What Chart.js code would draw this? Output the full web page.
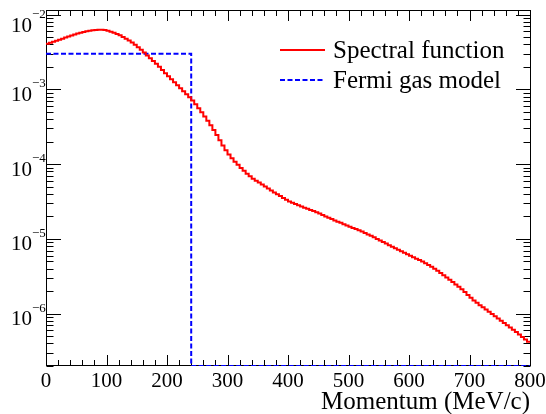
<!DOCTYPE html>
<html>
<head>
<meta charset="utf-8">
<script src="https://cdn.jsdelivr.net/npm/chart.js@4/dist/chart.umd.min.js"></script>
<style>
  html, body { margin: 0; padding: 0; background: #fff; }
  canvas { display: block; }
</style>
</head>
<body>
<canvas id="chart" width="546" height="414"></canvas>
<script>
// Nucleon momentum distribution, 5 MeV/c bins from 0 to 800
const binWidth = 5;
const momentumRange = [0, 800];

const spectralFunction = [
    4.06e-3, 4.18e-3, 4.32e-3, 4.45e-3, 4.60e-3, 4.76e-3, 4.92e-3, 5.08e-3, 5.25e-3, 5.41e-3,
    5.57e-3, 5.71e-3, 5.84e-3, 5.96e-3, 6.07e-3, 6.17e-3, 6.22e-3, 6.26e-3, 6.27e-3, 6.22e-3,
    6.08e-3, 5.90e-3, 5.71e-3, 5.50e-3, 5.27e-3, 5.02e-3, 4.76e-3, 4.49e-3, 4.22e-3, 3.94e-3,
    3.65e-3, 3.37e-3, 3.10e-3, 2.84e-3, 2.61e-3, 2.39e-3, 2.19e-3, 2.00e-3, 1.82e-3, 1.64e-3,
    1.50e-3, 1.36e-3, 1.24e-3, 1.135e-3, 1.035e-3, 9.44e-4, 8.61e-4, 7.85e-4, 7.08e-4, 6.31e-4,
    5.59e-4, 4.93e-4, 4.33e-4, 3.79e-4, 3.30e-4, 2.86e-4, 2.45e-4, 2.09e-4, 1.78e-4, 1.53e-4,
    1.34e-4, 1.20e-4, 1.08e-4, 9.80e-5, 8.91e-5, 8.13e-5, 7.46e-5, 6.88e-5, 6.40e-5, 6.01e-5,
    5.66e-5, 5.34e-5, 5.02e-5, 4.72e-5, 4.44e-5, 4.19e-5, 3.96e-5, 3.74e-5, 3.53e-5, 3.33e-5,
    3.17e-5, 3.05e-5, 2.92e-5, 2.81e-5, 2.71e-5, 2.62e-5, 2.53e-5, 2.44e-5, 2.36e-5, 2.28e-5,
    2.19e-5, 2.09e-5, 2.00e-5, 1.92e-5, 1.85e-5, 1.77e-5, 1.70e-5, 1.64e-5, 1.57e-5, 1.51e-5,
    1.45e-5, 1.40e-5, 1.36e-5, 1.31e-5, 1.26e-5, 1.20e-5, 1.15e-5, 1.10e-5, 1.05e-5, 1.00e-5,
    9.55e-6, 9.12e-6, 8.68e-6, 8.25e-6, 7.85e-6, 7.50e-6, 7.16e-6, 6.84e-6, 6.53e-6, 6.24e-6,
    5.96e-6, 5.69e-6, 5.45e-6, 5.24e-6, 5.00e-6, 4.74e-6, 4.49e-6, 4.24e-6, 3.99e-6, 3.75e-6,
    3.51e-6, 3.27e-6, 3.05e-6, 2.85e-6, 2.65e-6, 2.46e-6, 2.29e-6, 2.12e-6, 1.95e-6, 1.78e-6,
    1.63e-6, 1.50e-6, 1.40e-6, 1.30e-6, 1.22e-6, 1.135e-6, 1.06e-6, 9.89e-7, 9.23e-7, 8.61e-7,
    8.04e-7, 7.50e-7, 7.00e-7, 6.53e-7, 6.10e-7, 5.69e-7, 5.28e-7, 4.87e-7, 4.52e-7, 4.22e-7
];

// Fermi gas: flat up to the Fermi momentum, empty above
const fermiEdges = [0, 240, 800];
const fermiGas = [3.0e-3, 0];

const seriesNames = ["Spectral function", "Fermi gas model"];
const seriesColors = ["#ff0000", "#0000ff"];

const xTicks = [0, 100, 200, 300, 400, 500, 600, 700, 800];
const xMinorStep = 20;
const yDecades = [1e-2, 1e-3, 1e-4, 1e-5, 1e-6];
const yExponents = ["\u22122", "\u22123", "\u22124", "\u22125", "\u22126"];
const yRange = [2.0e-7, 1.15e-2];
const xTitle = "Momentum (MeV/c)";

// histogram -> stepped points (low edge of every bin, plus closing edge)
const spectralPoints = spectralFunction.map((v, i) => ({ x: momentumRange[0] + i * binWidth, y: v }));
spectralPoints.push({ x: momentumRange[1], y: spectralFunction[spectralFunction.length - 1] });

// empty bins can't go on a log axis, so they sit on the frame bottom like in ROOT
const fermiPoints = fermiEdges.map((e, i) => {
    const v = fermiGas[Math.min(i, fermiGas.length - 1)];
    return { x: e, y: v > 0 ? v : yRange[0] };
});

const serif = '"Liberation Serif", "Times New Roman", serif';

// ROOT-like frame: inward ticks on all four sides, labels and legend
const rootFrame = {
    id: "rootFrame",
    beforeDatasetsDraw(chart) {
        const { ctx, chartArea: a, scales: { x, y } } = chart;
        const left = Math.round(a.left) + 0.5;
        const right = Math.round(a.right) + 0.5;
        const top = Math.round(a.top) + 0.5;
        const bottom = Math.round(a.bottom) - 0.5;

        ctx.save();
        ctx.strokeStyle = "#000";
        ctx.lineWidth = 1;
        ctx.strokeRect(left, top, right - left, bottom - top);

        ctx.beginPath();
        // x ticks, bottom and top
        for (let v = momentumRange[0]; v <= momentumRange[1]; v += xMinorStep) {
            const px = Math.round(x.getPixelForValue(v)) + 0.5;
            const len = v % 100 === 0 ? 10.5 : 5.5;
            ctx.moveTo(px, bottom);
            ctx.lineTo(px, bottom - len);
            ctx.moveTo(px, top);
            ctx.lineTo(px, top + len);
        }
        // y ticks, left and right
        for (let e = -7; e <= -2; e++) {
            for (let k = 1; k <= 9; k++) {
                const v = k * Math.pow(10, e);
                if (v < yRange[0] || v > yRange[1]) continue;
                const py = Math.round(y.getPixelForValue(v)) + 0.5;
                const len = k === 1 ? 14.5 : 7;
                ctx.moveTo(left, py);
                ctx.lineTo(left + len, py);
                ctx.moveTo(right, py);
                ctx.lineTo(right - len, py);
            }
        }
        ctx.stroke();
        ctx.restore();
    },
    afterDraw(chart) {
        const { ctx, chartArea: a, scales: { x, y } } = chart;
        ctx.save();
        ctx.fillStyle = "#000";

        // x tick labels
        ctx.font = "21px " + serif;
        ctx.textAlign = "center";
        ctx.textBaseline = "alphabetic";
        xTicks.forEach(v => ctx.fillText(String(v), x.getPixelForValue(v), 387));

        // y tick labels as 10^n, kept inside the pad at the top
        yDecades.forEach((v, i) => {
            const cy = Math.max(y.getPixelForValue(v) + 4.5, 24.5);
            ctx.font = "21px " + serif;
            ctx.textAlign = "right";
            ctx.fillText("10", 32, cy + 7);
            ctx.font = "13px " + serif;
            ctx.textAlign = "left";
            ctx.fillText(yExponents[i], 32, cy - 6.5);
        });

        // axis title, right aligned at the end of the axis
        ctx.font = "25px " + serif;
        ctx.textAlign = "right";
        ctx.fillText(xTitle, a.right, 409);

        // legend
        chart.data.datasets.forEach((ds, i) => {
            const ly = 50 + i * 30;
            ctx.beginPath();
            ctx.strokeStyle = ds.borderColor;
            ctx.lineWidth = 2;
            ctx.setLineDash(ds.borderDash || []);
            ctx.moveTo(280, ly);
            ctx.lineTo(325, ly);
            ctx.stroke();
            ctx.setLineDash([]);
            ctx.font = "25px " + serif;
            ctx.textAlign = "left";
            ctx.fillText(ds.label, 333, ly + 8);
        });
        ctx.restore();
    }
};

const chart = document.querySelector("#chart").getContext("2d");

// stepped "before" = flat across the bin, then jump at its upper edge
new Chart(chart, {
    type: "line",
    data: {
        datasets: [
            {
                label: seriesNames[0],
                data: spectralPoints,
                borderColor: seriesColors[0],
                borderWidth: 2,
                stepped: "before",
                pointRadius: 0,
                fill: false
            },
            {
                label: seriesNames[1],
                data: fermiPoints,
                borderColor: seriesColors[1],
                borderWidth: 2,
                borderDash: [5, 2.5],
                stepped: "before",
                pointRadius: 0,
                fill: false
            }
        ]
    },
    options: {
        responsive: false,
        animation: false,
        layout: { padding: { left: 46, right: 16, top: 10, bottom: 48 } },
        scales: {
            x: { type: "linear", min: momentumRange[0], max: momentumRange[1], display: false },
            y: { type: "logarithmic", min: yRange[0], max: yRange[1], display: false }
        },
        plugins: {
            legend: { display: false },
            tooltip: { enabled: false }
        }
    },
    plugins: [rootFrame]
});
</script>
</body>
</html>
